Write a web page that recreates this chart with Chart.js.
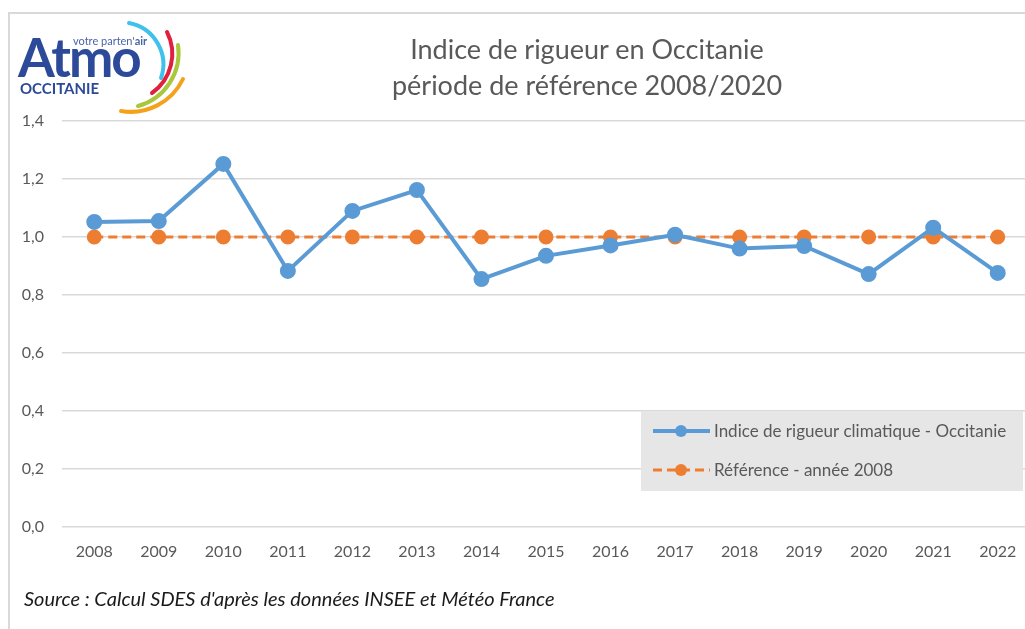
<!DOCTYPE html>
<html>
<head>
<meta charset="utf-8">
<script src="https://cdn.jsdelivr.net/npm/chart.js@4"></script>
<style>
  html, body { margin: 0; padding: 0; background: #fff; overflow: hidden; }
  #wrap { position: relative; width: 1025px; height: 629px; overflow: hidden; }
  #frame { position: absolute; left: 8px; top: 12px; width: 1100px; height: 700px; border: 2px solid #d9d9d9; box-sizing: border-box; }
  #chart { position: absolute; left: 0; top: 0; }
  #title { position: absolute; left: 337px; width: 500px; top: 31px; text-align: center; font-family: Lato, sans-serif; font-size: 27px; line-height: 36px; color: #595959; }
  #source { position: absolute; left: 24px; top: 586px; font-family: Lato, sans-serif; font-style: italic; font-size: 20px; color: #1a1a1a; }
  #logo { position: absolute; left: 0; top: 0; }
</style>
</head>
<body>
<div id="wrap">
  <div id="frame"></div>
  <canvas id="chart" width="1040" height="629"></canvas>
  <svg id="logo" width="200" height="120">
    <text x="73" y="45" font-family="Lato, sans-serif" font-size="11" fill="#4a63ab">votre parten'<tspan font-weight="bold">air</tspan></text>
    <text x="18" y="77" font-family="Lato, sans-serif" font-size="53" font-weight="bold" fill="#2d4a9a" letter-spacing="-2">Atmo</text>
    <text x="20" y="94" font-family="Lato, sans-serif" font-size="15" font-weight="bold" fill="#2d4a9a">OCCITANIE</text>
    <path d="M 129 23 A 42 42 0 0 1 161 78" fill="none" stroke="#3ec1eb" stroke-width="4" stroke-linecap="round"/>
    <path d="M 167 32 A 48 48 0 0 1 152 93" fill="none" stroke="#e0203c" stroke-width="4" stroke-linecap="round"/>
    <path d="M 178 45 A 55 55 0 0 1 138 106" fill="none" stroke="#a8c73a" stroke-width="4" stroke-linecap="round"/>
    <path d="M 183 79 A 58 58 0 0 1 121 111" fill="none" stroke="#f5a11c" stroke-width="4" stroke-linecap="round"/>
  </svg>
  <div id="title">Indice de rigueur en Occitanie<br>période de référence 2008/2020</div>
  <div id="source">Source : Calcul SDES d'après les données INSEE et Météo France</div>
</div>
<script>
var years = ["2008", "2009", "2010", "2011", "2012", "2013", "2014", "2015",
             "2016", "2017", "2018", "2019", "2020", "2021", "2022"];
var indiceOccitanie = [1.052, 1.055, 1.252, 0.883, 1.090, 1.162, 0.855, 0.935,
                       0.971, 1.008, 0.960, 0.969, 0.872, 1.032, 0.876];
var reference2008 = [1, 1, 1, 1, 1, 1, 1, 1, 1, 1, 1, 1, 1, 1, 1];
var seriesLabels = ["Indice de rigueur climatique - Occitanie", "Référence - année 2008"];

var blue = "#5b9bd5";
var orange = "#ed7d31";

// legende dans une boite grise, comme dans Excel
var boxLegend = {
    id: "boxLegend",
    afterDraw: function(chart){
        var ctx = chart.ctx;
        var x = 641, y = 411, w = 382, h = 80;
        ctx.save();
        ctx.fillStyle = "#e7e6e6";
        ctx.fillRect(x, y, w, h);
        chart.data.datasets.forEach(function(ds, i){
            var rowY = y + 20 + i * 39;
            ctx.strokeStyle = ds.borderColor;
            ctx.lineWidth = ds.borderWidth;
            ctx.setLineDash(ds.borderDash || []);
            ctx.beginPath();
            ctx.moveTo(653, rowY);
            ctx.lineTo(710, rowY);
            ctx.stroke();
            ctx.setLineDash([]);
            ctx.fillStyle = ds.pointBackgroundColor;
            ctx.beginPath();
            ctx.arc(681, rowY, 6, 0, Math.PI * 2);
            ctx.fill();
            ctx.fillStyle = "#595959";
            ctx.font = "17px Lato, sans-serif";
            ctx.textBaseline = "middle";
            ctx.fillText(ds.label, 714, rowY + 1);
        });
        ctx.restore();
    }
};

new Chart(document.getElementById("chart"), {
    type: "line",
    data: {
        labels: years,
        datasets: [{
            label: seriesLabels[0],
            data: indiceOccitanie,
            borderColor: blue,
            backgroundColor: blue,
            pointBackgroundColor: blue,
            pointBorderColor: blue,
            borderWidth: 4,
            pointRadius: 6,
            tension: 0,
            order: 1
        }, {
            label: seriesLabels[1],
            data: reference2008,
            borderColor: orange,
            backgroundColor: orange,
            pointBackgroundColor: orange,
            pointBorderColor: orange,
            borderWidth: 3,
            borderDash: [9, 5],
            pointRadius: 6,
            tension: 0,
            order: 2
        }]
    },
    options: {
        responsive: false,
        animation: false,
        layout: { padding: { top: 121, right: 10, left: 0, bottom: 0 } },
        plugins: {
            legend: { display: false },
            title: { display: false },
            tooltip: { enabled: false }
        },
        scales: {
            x: {
                offset: true,
                afterFit: function(scale){ scale.height = 102; },
                grid: { display: false, drawTicks: false },
                border: { display: false },
                ticks: { color: "#595959", font: { family: "Lato", size: 16 }, padding: 15, maxRotation: 0 }
            },
            y: {
                min: 0,
                max: 1.4,
                afterFit: function(scale){ scale.width = 62; },
                grid: { color: "#d9d9d9", lineWidth: 1.5, drawTicks: false },
                border: { display: false },
                ticks: {
                    stepSize: 0.2,
                    color: "#595959",
                    font: { family: "Lato", size: 16 },
                    padding: 18,
                    callback: function(v){ return v.toFixed(1).replace(".", ","); }
                }
            }
        }
    },
    plugins: [boxLegend]
});
</script>
</body>
</html>
